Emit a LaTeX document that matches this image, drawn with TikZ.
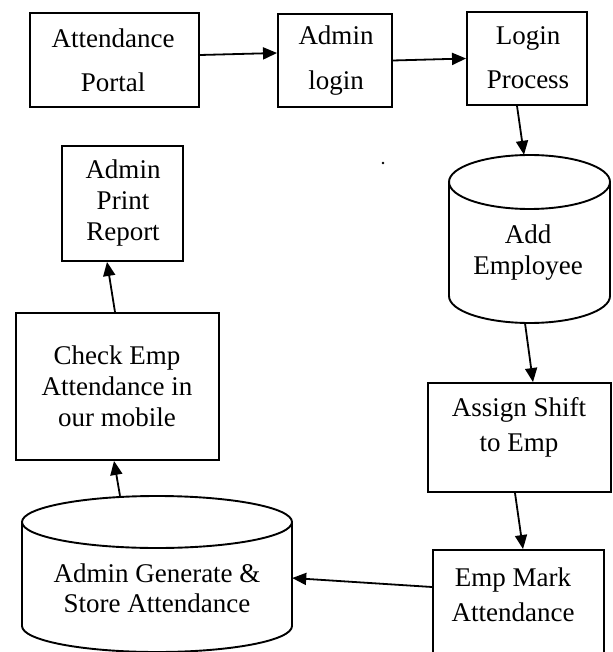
\documentclass[tikz,border=0pt]{standalone}
\usepackage{fontspec}
\setmainfont{Liberation Serif}
\usetikzlibrary{arrows.meta}
\begin{document}
\begin{tikzpicture}[x=1pt,y=-1pt,
  box/.style={draw, line width=1.9pt, rectangle, inner sep=0pt},
  hit/.style={rectangle, inner sep=0pt, draw=none},
  txt/.style={align=center, inner sep=0pt, font=\fontsize{27}{31}\selectfont},
  arr/.style={line width=1.8pt, -{Triangle[length=14pt,width=12pt]}},
  cyl/.style={line width=1.9pt}]
\useasboundingbox (0,0) rectangle (612,652);
\clip (0,0) rectangle (612,652);

% boxes
\node[box, minimum width=169pt, minimum height=94pt] (ap) at (114.5,60) {};
\node[txt] (apt) at (113,60) {Attendance\\[13pt]Portal};

\node[box, minimum width=114pt, minimum height=93pt] (al) at (335,60.5) {};
\node[txt] (alt) at (336,60.5) {Admin\\[14pt]login};

\node[box, minimum width=120pt, minimum height=93pt] (lp) at (527,58.5) {};
\node[txt] (lpt) at (528,58) {Login\\[13pt]Process};

% Add Employee cylinder
\node[hit, minimum width=161pt, minimum height=168pt] (ae) at (529.5,239) {};
\draw[cyl] (529.5,182) ellipse [x radius=80.5pt, y radius=27pt];
\draw[cyl] (449,182) -- (449,296) .. controls (449,310.9) and (485,323) .. (529.5,323)
  .. controls (574,323) and (610,310.9) .. (610,296) -- (610,182);
\node[txt] (aet) at (528,252.5) {Add\\Employee};

\node[box, minimum width=183pt, minimum height=109pt] (as) at (519.5,437.5) {};
\node[txt] (ast) at (519,427.5) {Assign Shift\\[4pt]to Emp};

\node[box, minimum width=171pt, minimum height=110pt] (em) at (518.5,605) {};
\node[txt] (emt) at (513,594.5) {Emp Mark\\[4pt]Attendance};

% Admin Generate cylinder
\node[hit, minimum width=270pt, minimum height=156pt] (ag) at (157,574) {};
\draw[cyl] (157,522) ellipse [x radius=135pt, y radius=26pt];
\draw[cyl] (22,522) -- (22,626) .. controls (22,640.4) and (82.4,652) .. (157,652)
  .. controls (231.6,652) and (292,640.4) .. (292,626) -- (292,522);
\node[txt] (agt) at (157,588) {Admin Generate \&\\[-1pt]Store Attendance};

\node[box, minimum width=203pt, minimum height=147pt] (ce) at (117.5,386.5) {};
\node[txt] (cet) at (117,386) {Check Emp\\Attendance in\\our mobile};

\node[box, minimum width=121pt, minimum height=115pt] (pr) at (122.5,203.5) {};
\node[txt] (prt) at (123,203.5) {Admin\\Print\\Report};

% stray dot
\fill (383,163) circle (1.3pt);

% arrows
\draw[arr] ([yshift=5pt]ap.east) -- ([yshift=7.5pt]al.west);
\draw[arr] (al.east) -- (lp.west);
\draw[arr] ([xshift=-10pt]lp.south) -- ([xshift=-5.5pt]ae.north);
\draw[arr] ([xshift=-4.5pt]ae.south) -- ([xshift=13.5pt]as.north);
\draw[arr] ([xshift=-4.5pt]as.south) -- ([xshift=4.5pt]em.north);
\draw[arr] ([yshift=18pt]em.west) -- ([yshift=-4pt]ag.east);
\draw[arr] ([xshift=-37pt]ag.north) -- ([xshift=-3.5pt]ce.south);
\draw[arr] ([xshift=-2.5pt]ce.north) -- ([xshift=-15.5pt]pr.south);
\end{tikzpicture}
\end{document}
